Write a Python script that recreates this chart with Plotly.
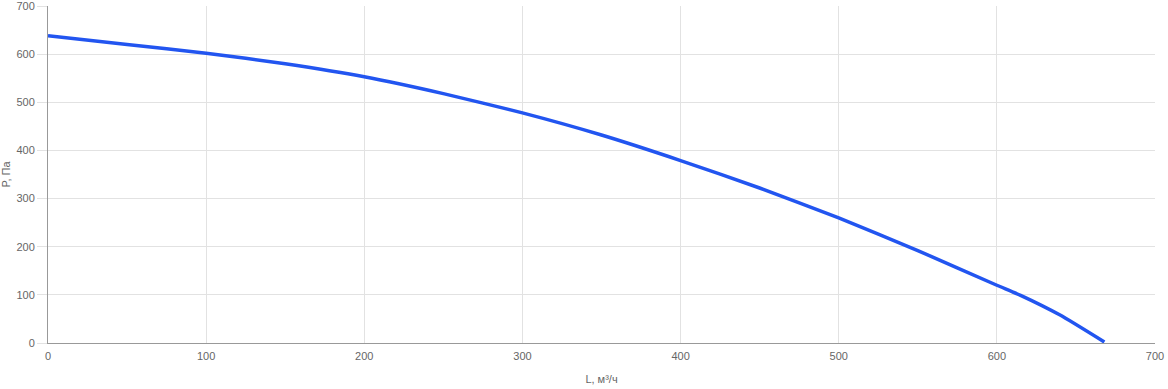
import plotly.graph_objects as go

flow = [0, 50, 100, 150, 200, 250, 300, 350, 400, 450, 500, 550, 600, 615, 640, 668]
pressure = [638, 620, 602, 580, 553, 518, 478, 432, 379, 322, 260, 192, 120, 99, 58, 2]

x_ticks = [0, 100, 200, 300, 400, 500, 600, 700]
y_ticks = [0, 100, 200, 300, 400, 500, 600, 700]

GRID = "#e2e2e2"
AXIS = "#999999"

fig = go.Figure()
fig.add_trace(go.Scatter(
    x=flow, y=pressure, mode="lines",
    line=dict(color="rgb(34,85,240)", width=3.5, shape="spline", smoothing=0.5),
    hoverinfo="x+y", showlegend=False,
))

axis_font = dict(family="Liberation Sans, Arial, sans-serif", size=11, color="#666")

fig.update_layout(
    width=1168, height=389,
    margin=dict(l=48, r=13, t=6, b=46),
    paper_bgcolor="white", plot_bgcolor="white",
    font=dict(family="Liberation Sans, Arial, sans-serif", size=11, color="#666"),
    xaxis=dict(
        range=[0, 700], tickvals=x_ticks, ticktext=[str(v) for v in x_ticks],
        showgrid=True, gridcolor=GRID, gridwidth=1,
        showline=True, linecolor=AXIS, linewidth=1,
        ticks="", zeroline=False, tickfont=axis_font,
        ticklabeloverflow="allow", ticklabelstandoff=3, automargin=False,
        title=dict(text="L, м³/ч", font=axis_font, standoff=14),
    ),
    yaxis=dict(
        range=[0, 700], tickvals=y_ticks, ticktext=[str(v) for v in y_ticks],
        showgrid=True, gridcolor=GRID, gridwidth=1,
        showline=True, linecolor=AXIS, linewidth=1,
        ticks="outside", ticklen=10, tickcolor=GRID,
        zeroline=False, tickfont=axis_font,
        ticklabeloverflow="allow", automargin=False,
        title=dict(text="P, Па", font=axis_font, standoff=4),
    ),
)

# axis line extensions past the origin (styling only)
fig.add_shape(type="line", xref="x", yref="y", xsizemode="pixel", xanchor=0,
              x0=0, x1=-10, y0=0, y1=0, line=dict(color=AXIS, width=1), layer="above")
fig.add_shape(type="line", xref="x", yref="y", ysizemode="pixel", yanchor=0,
              y0=0, y1=-9, x0=0, x1=0, line=dict(color=AXIS, width=1), layer="above")

fig.write_html("out.html", config={"displayModeBar": False},
               post_script="document.body.style.margin='0';")
